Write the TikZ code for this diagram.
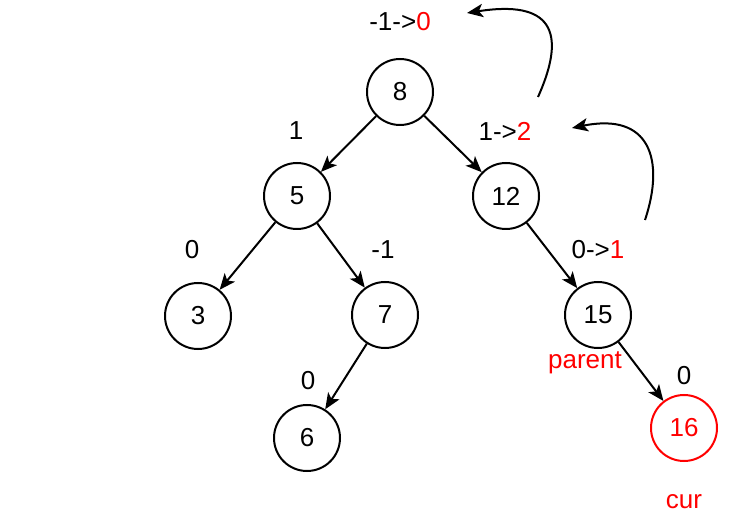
\documentclass[tikz,border=0pt]{standalone}
\usepackage{fontspec}
\setmainfont{Liberation Sans}
\usetikzlibrary{arrows.meta}
\begin{document}
\begin{tikzpicture}[x=0.75pt,y=-0.75pt,
  every node/.style={font=\fontsize{19.5}{23}\selectfont},
  tnode/.style={circle,draw,line width=1.5pt,minimum size=49.5pt,inner sep=0pt},
  arr/.style={line width=1.5pt,-{Stealth[length=12pt,width=10pt,inset=3pt]}},
  lbl/.style={inner sep=0pt}]
\useasboundingbox (0,0) rectangle (743,520);
\node[tnode] (n8) at (400,92) {8};
\node[tnode] (n5) at (297,196) {5};
\node[tnode] (n12) at (506,196) {12};
\node[tnode] (n3) at (198,316) {3};
\node[tnode] (n7) at (385,315) {7};
\node[tnode] (n15) at (598,315) {15};
\node[tnode] (n6) at (307,438) {6};
\node[tnode,draw=red,text=red] (n16) at (684,428) {16};
\draw[arr] (n8) -- (n5);
\draw[arr] (n8) -- (n12);
\draw[arr] (n5) -- (n3);
\draw[arr] (n5) -- (n7);
\draw[arr] (n7) -- (n6);
\draw[arr] (n12) -- (n15);
\draw[arr] (n15) -- (n16);
\node[lbl] (l8) at (400,22) {-1->\textcolor{red}{0}};
\node[lbl] (l5) at (296,131) {1};
\node[lbl] (l12) at (505,131) {1->\textcolor{red}{2}};
\node[lbl] (l3) at (192,250) {0};
\node[lbl] (l7) at (383,250) {-1};
\node[lbl] (l15) at (598,250) {0->\textcolor{red}{1}};
\node[lbl,text=red] (lp) at (585,363) {parent};
\node[lbl] (l6) at (308,381) {0};
\node[lbl] (l16) at (684,376) {0};
\node[lbl,text=red] (lc) at (684,502) {cur};
\coordinate (a1s) at (538,97);
\coordinate (a1e) at (467,13);
\coordinate (a2s) at (645,220);
\coordinate (a2e) at (572,128);
\draw[arr] (a1s) .. controls (568,30) and (550,0) .. (a1e);
\draw[arr] (a2s) .. controls (665,160) and (650,112) .. (a2e);
\end{tikzpicture}
\end{document}
